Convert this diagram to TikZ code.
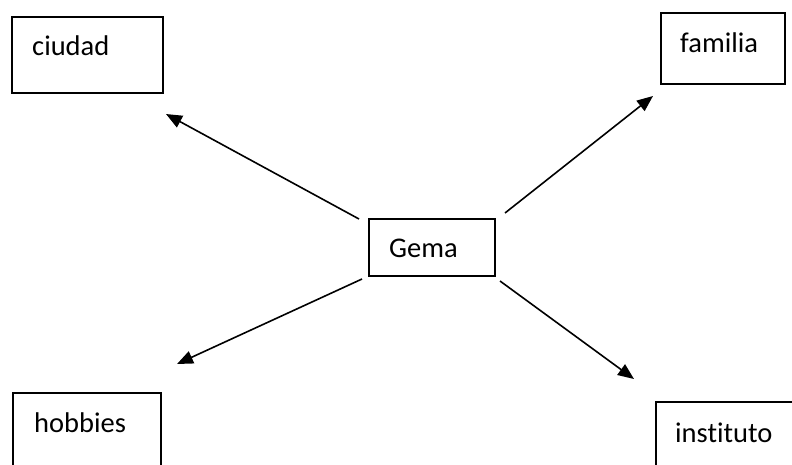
\documentclass[tikz,border=0pt]{standalone}
\usepackage{fontspec}
\setmainfont{Carlito}[Ligatures=NoCommon]
\usetikzlibrary{arrows.meta}
\begin{document}
\begin{tikzpicture}[x=1pt,y=-1pt,
  box/.style={draw, line width=2pt, anchor=north west, inner sep=0pt},
  lbl/.style={anchor=west, inner sep=0pt, font=\fontsize{28.5}{32}\selectfont},
  conn/.style={line width=1.6pt, -{Triangle[length=16pt,width=13pt]}}]
\useasboundingbox (0,0) rectangle (792,464);
% boxes
\node[box, minimum width=151pt, minimum height=76pt] (ciudad) at (11,16) {};
\node[box, minimum width=124pt, minimum height=71pt] (familia) at (660,12) {};
\node[box, minimum width=126pt, minimum height=57pt] (gema) at (368,218) {};
\node[box, minimum width=148pt, minimum height=80pt] (hobbies) at (12,392) {};
\node[box, minimum width=145pt, minimum height=70pt] (instituto) at (655,401) {};
% labels
\node[lbl] (tciudad) at (32,46) {ciudad};
\node[lbl] (tfamilia) at (680,43) {familia};
\node[lbl] (tgema) at (389,248) {Gema};
\node[lbl] (thobbies) at (34,423) {hobbies};
\node[lbl] (tinstituto) at (675,433) {instituto};
% connector ends
\coordinate (s1) at (359,219); \coordinate (e1) at (166,114);
\coordinate (s2) at (505,213); \coordinate (e2) at (653,96);
\coordinate (s3) at (362,279); \coordinate (e3) at (177,364);
\coordinate (s4) at (500,281); \coordinate (e4) at (634,379);
\draw[conn] (s1) -- (e1);
\draw[conn] (s2) -- (e2);
\draw[conn] (s3) -- (e3);
\draw[conn] (s4) -- (e4);
\end{tikzpicture}
\end{document}
